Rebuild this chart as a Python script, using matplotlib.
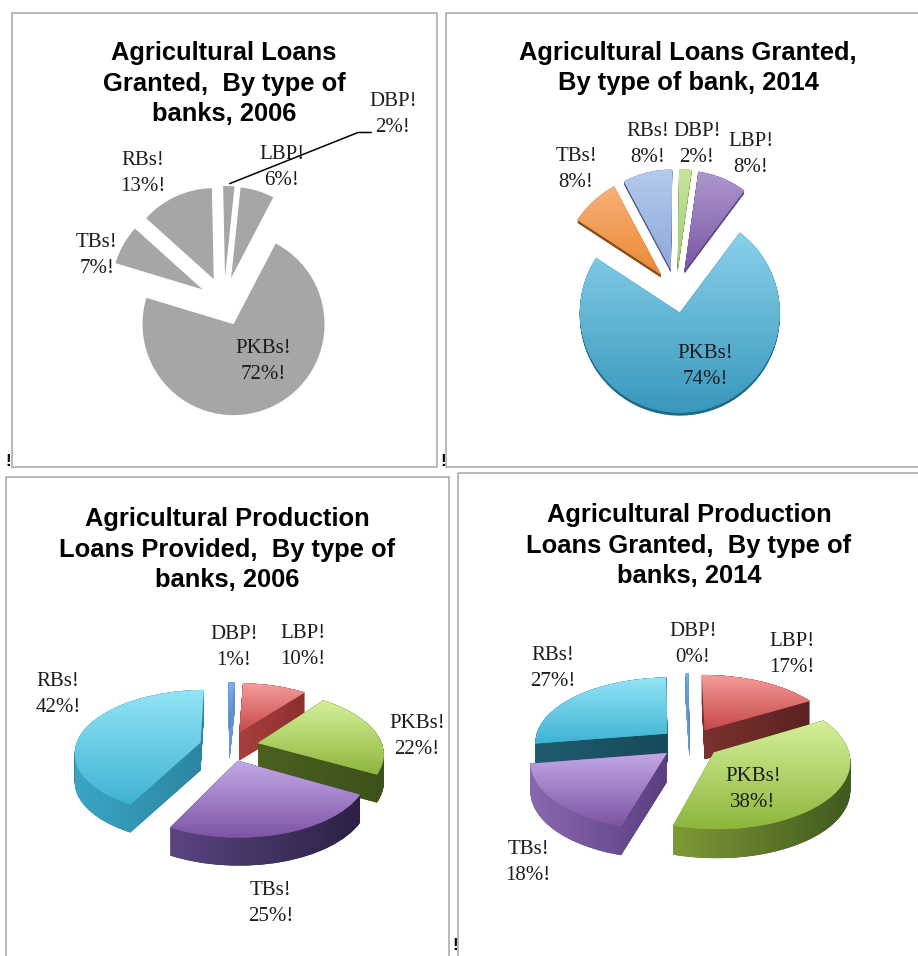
import numpy as np
import matplotlib
matplotlib.use('Agg')
import matplotlib.pyplot as plt
from matplotlib.colors import LinearSegmentedColormap
from matplotlib.patches import PathPatch, Rectangle
from matplotlib.path import Path
from matplotlib.transforms import Affine2D, Transform

W, H = 918, 956

# slices always run clockwise in this order
banks = ['LBP', 'PKBs', 'TBs', 'RBs', 'DBP']

loans_2006 = [6, 72, 7, 13, 2]
loans_2014 = [8, 74, 8, 8, 2]
production_2006 = [10, 22, 25, 42, 1]
production_2014 = [17, 38, 18, 27, 0.4]  # labelled 0% but still drawn as a sliver

labels_loans_2006 = ['6%', '72%', '7%', '13%', '2%']
labels_loans_2014 = ['8%', '74%', '8%', '8%', '2%']
labels_production_2006 = ['10%', '22%', '25%', '42%', '1%']
labels_production_2014 = ['17%', '38%', '18%', '27%', '0%']

title_loans_2006 = 'Agricultural Loans\nGranted,  By type of\nbanks, 2006'
title_loans_2014 = 'Agricultural Loans Granted,\nBy type of bank, 2014'
title_production_2006 = 'Agricultural Production\nLoans Provided,  By type of\nbanks, 2006'
title_production_2014 = 'Agricultural Production\nLoans Granted,  By type of\nbanks, 2014'

GREY = [('#a6a6a6', '#a6a6a6')] * 5
TOP_2014 = [('#ad96cc', '#7a58a6'), ('#88d0ea', '#3a98bd'), ('#f8b077', '#ea8a36'),
            ('#b4caee', '#8ea8d8'), ('#c6e59c', '#a0cc70')]
WALL_2014 = [('#5f4a80', '#5f4a80'), ('#1f6a85', '#1f6a85'), ('#8a4e1e', '#8a4e1e'),
             ('#4a5f85', '#4a5f85'), ('#7a9a55', '#7a9a55')]
TOP_3D = [('#f49c98', '#c8484a'), ('#d4f09a', '#8eb63d'), ('#c2a8e6', '#7d55a5'),
          ('#92e4f6', '#3fb3d3'), ('#7ab0ec', '#4f82c4')]
WALL_2006 = [('#a83f3e', '#8c3030'), ('#4a6120', '#3d511a'), ('#5a4480', '#2c2145'),
             ('#3aa5c5', '#2c85a0'), ('#6f9ed4', '#5e8fc8')]
WALL_2014_3D = [('#7a3230', '#5c2220'), ('#7d9a35', '#405a20'), ('#8a68b0', '#5a3f80'),
                ('#1f5c70', '#174a5a'), ('#6f9ed4', '#5e8fc8')]


class Tilt(Transform):
    # rough perspective, the front of the pie is bigger than the back
    input_dims = 2
    output_dims = 2

    def __init__(self, k):
        super().__init__()
        self.k = k

    def transform_non_affine(self, values):
        values = np.asarray(values)
        f = 1 - self.k * values[:, 1]
        return np.column_stack((values[:, 0] * f, values[:, 1] * f))


def px(x, y):
    return x / W, 1 - y / H


def fill_gradient(ax, patch, path, colors, zorder, vertical):
    box = path.get_extents()
    cmap = LinearSegmentedColormap.from_list('g', colors)
    ramp = np.linspace(0, 1, 48)
    ramp = ramp[:, None] if vertical else ramp[None, :]
    im = ax.imshow(ramp, cmap=cmap, aspect='auto', interpolation='bilinear',
                   extent=(box.x0, box.x1, box.y0, box.y1), zorder=zorder + 0.0005)
    im.set_clip_path(patch)


def draw_pie(values, start, cx, cy, r, explode, squash=1.0, k=0.0, depth=0,
             top=GREY, wall=None):
    left, bottom = px(cx - 2 * r, cy + 2 * r * squash)
    ax = fig.add_axes([left, bottom, 4 * r / W, 4 * r * squash / H])
    tilt = Tilt(k)
    unit = r * squash

    shares = np.array(values) / np.sum(values)
    ends = start - np.cumsum(shares) * 360
    mids = np.radians(ends + shares * 180)
    rank = np.argsort(np.argsort(-np.sin(mids)))

    wedges, _ = ax.pie(values, explode=[explode] * len(values), startangle=start,
                       counterclock=False, wedgeprops={'linewidth': 0})
    for i, wedge in enumerate(wedges):
        z = 2 + rank[i]
        if depth:
            # the side wall is the slice swept downwards, as one clip shape
            sweep = [(tilt + Affine2D().translate(0, -d / unit)).transform_path(wedge.get_path())
                     for d in range(depth + 1)]
            outline = Path.make_compound_path(*sweep)
            side = PathPatch(outline, facecolor=wall[i][1], linewidth=0, zorder=z)
            ax.add_patch(side)
            if wall[i][0] != wall[i][1]:
                fill_gradient(ax, side, outline, wall[i], z, False)

        wedge.set_transform(tilt + ax.transData)
        wedge.set_facecolor(top[i][1])
        wedge.set_zorder(z + 0.01)
        if top[i][0] != top[i][1]:
            fill_gradient(ax, wedge, tilt.transform_path(wedge.get_path()), top[i], z + 0.01, True)

    ax.set_aspect('auto')
    ax.set_xlim(-2, 2)
    ax.set_ylim(-2, 2)
    ax.axis('off')


def add_labels(ax, spots, pcts):
    for name, pct, (x, y) in zip(banks, pcts, spots):
        ax.text(x, y + 1.5, f'{name}!\n{pct}!', ha='center', va='center', family='Liberation Serif',
                fontsize=15, linespacing=1.5, color='#1c1c1c')


fig = plt.figure(figsize=(W / 100, H / 100), dpi=100, facecolor='white')

draw_pie(loans_2006, 84, 224, 301.5, 91, 0.27)
draw_pie(loans_2014, 82, 676, 291, 100, 0.22, depth=3, top=TOP_2014, wall=WALL_2014)
draw_pie(production_2006, 87, 229, 746, 125, 0.236, squash=0.505, k=0.15, depth=28,
         top=TOP_3D, wall=WALL_2006)
draw_pie(production_2014, 90.5, 690, 743, 133, 0.225, squash=0.5, k=0.12, depth=29,
         top=TOP_3D, wall=WALL_2014_3D)

# overlay in pixel coordinates for the frames and all the text
over = fig.add_axes([0, 0, 1, 1], facecolor='none')
over.set_xlim(0, W)
over.set_ylim(H, 0)
over.axis('off')

for x0, y0, x1, y1 in [(11.5, 12.5, 436.5, 466.5), (446, 12.5, 940, 466.5),
                       (6, 477, 449, 990), (457.5, 473, 940, 990)]:
    over.add_patch(Rectangle((x0, y0), x1 - x0, y1 - y0, fill=False, edgecolor='#a6a6a6', linewidth=1.1))

for x, y, title in [(224, 83.5, title_loans_2006), (688, 68, title_loans_2014),
                    (227, 549.5, title_production_2006), (689, 545.5, title_production_2014)]:
    over.text(x, y, title, ha='center', va='center', family='Liberation Sans', fontweight='bold',
              fontsize=18.4, linespacing=1.35, color='black')

add_labels(over, [(282, 166), (263, 360), (97, 254), (143, 172), (393, 113)], labels_loans_2006)
add_labels(over, [(751, 153), (705, 365), (576, 168), (648, 143), (697, 143)], labels_loans_2014)
add_labels(over, [(303, 645), (417, 735), (271, 902), (58, 693), (234, 646)], labels_production_2006)
add_labels(over, [(792, 653), (753, 788), (528, 861), (553, 667), (693, 643)], labels_production_2014)

# leader line for the DBP label
over.plot([230, 358, 371], [183.5, 132.5, 132.5], color='black', linewidth=1.1)

# stray marks left over from the document
for x, y in [(8.5, 461), (443.5, 461), (455.5, 945)]:
    over.text(x, y, '!', ha='center', va='center', family='Liberation Sans', fontweight='bold',
              fontsize=12, color='black')

fig.savefig('out.png', dpi=100)
